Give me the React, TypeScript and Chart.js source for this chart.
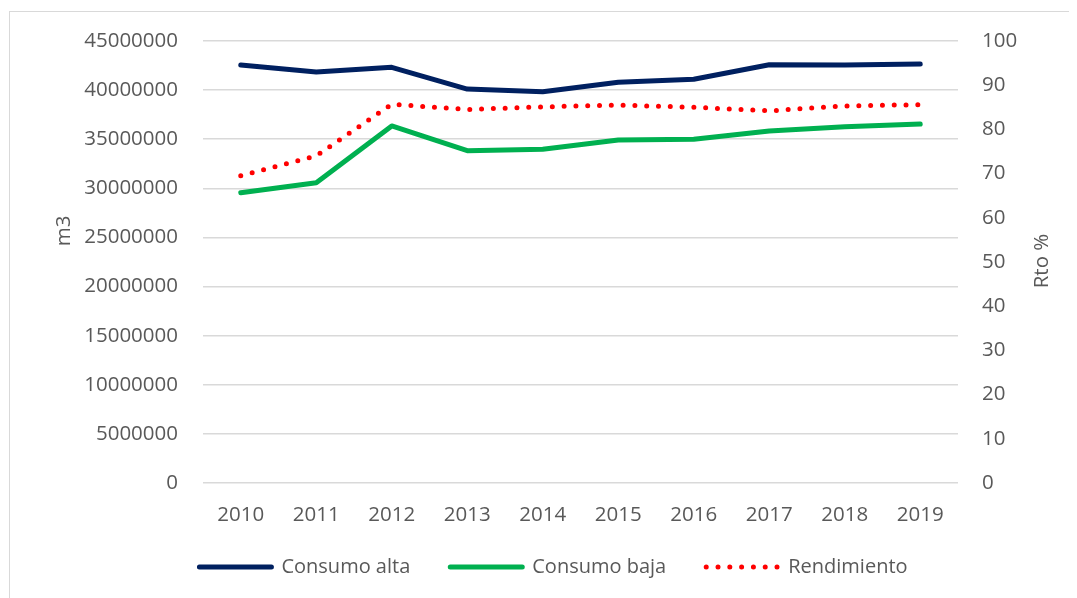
import React, { useEffect, useRef } from "react";
import { Chart, registerables } from "chart.js";

Chart.register(...registerables);

const years = ["2010", "2011", "2012", "2013", "2014", "2015", "2016", "2017", "2018", "2019"];
const consumoAlta = [42560000, 41850000, 42320000, 40110000, 39840000, 40800000, 41100000, 42590000, 42560000, 42660000];
const consumoBaja = [29560000, 30570000, 36350000, 33830000, 33970000, 34920000, 34990000, 35840000, 36280000, 36550000];
const rendimiento = [69.5, 74.0, 85.7, 84.5, 85.1, 85.5, 85.0, 84.2, 85.3, 85.6];

const leftAxisTitle = "m3";
const rightAxisTitle = "Rto %";

const FONT = "'Open Sans', 'Noto Sans', sans-serif";
const TEXT = "#595959";
const FS = 20.5;

const axisTitlesPlugin = {
  id: "axisTitles",
  afterDraw(chart: any) {
    const { ctx, chartArea } = chart;
    const draw = (text: string, x: number, y: number) => {
      ctx.save();
      ctx.fillStyle = TEXT;
      ctx.font = `${FS}px ${FONT}`;
      ctx.textAlign = "center";
      ctx.textBaseline = "middle";
      ctx.translate(x, y);
      ctx.rotate(-Math.PI / 2);
      ctx.fillText(text, 0, 0);
      ctx.restore();
    };
    draw(leftAxisTitle, chartArea.left - 139, chartArea.top + 190);
    draw(rightAxisTitle, chartArea.right + 84, chartArea.top + 220);
  },
};

export default function App() {
  const ref = useRef<HTMLCanvasElement | null>(null);

  useEffect(() => {
    if (!ref.current) return;
    const chart = new Chart(ref.current, {
      type: "line",
      data: {
        labels: years,
        datasets: [
          {
            label: "Consumo alta",
            data: consumoAlta,
            borderColor: "#002060",
            backgroundColor: "#002060",
            borderWidth: 5,
            borderCapStyle: "round",
            borderJoinStyle: "round",
            pointRadius: 0,
            pointHoverRadius: 0,
            tension: 0,
            yAxisID: "y",
          },
          {
            label: "Consumo baja",
            data: consumoBaja,
            borderColor: "#00B050",
            backgroundColor: "#00B050",
            borderWidth: 5,
            borderCapStyle: "round",
            borderJoinStyle: "round",
            pointRadius: 0,
            pointHoverRadius: 0,
            tension: 0,
            yAxisID: "y",
          },
          {
            label: "Rendimiento",
            data: rendimiento,
            borderColor: "#FF0000",
            backgroundColor: "#FF0000",
            borderWidth: 5,
            borderDash: [0, 11.8],
            borderCapStyle: "round",
            borderJoinStyle: "round",
            pointRadius: 0,
            pointHoverRadius: 0,
            tension: 0,
            yAxisID: "y1",
          },
        ],
      } as any,
      options: {
        animation: false,
        responsive: false,
        layout: { padding: { top: 29, left: 20, right: 0, bottom: 11 } },
        plugins: {
          tooltip: { enabled: false },
          legend: {
            position: "bottom",
            labels: {
              usePointStyle: true,
              pointStyle: "line",
              pointStyleWidth: 72,
              padding: 40,
              color: TEXT,
              font: { family: FONT, size: 20 },
              generateLabels(c: any) {
                const items = (Chart.defaults as any).plugins.legend.labels.generateLabels(c);
                items.forEach((it: any) => {
                  const ds = c.data.datasets[it.datasetIndex];
                  it.lineDash = ds.borderDash || [];
                  it.lineCap = ds.borderCapStyle;
                  it.lineWidth = ds.borderWidth;
                  it.strokeStyle = ds.borderColor;
                  it.fillStyle = ds.borderColor;
                });
                return items;
              },
            },
          },
        },
        scales: {
          x: {
            offset: true,
            grid: { display: false, drawTicks: false },
            border: { display: false },
            ticks: { color: TEXT, font: { family: FONT, size: FS }, padding: 20, maxRotation: 0 },
            afterFit(scale: any) {
              scale.height = 34;
              scale._computeLabelArea = () => undefined;
            },
          },
          y: {
            position: "left",
            min: 0,
            max: 45000000,
            grid: { color: "#d9d9d9", lineWidth: 1.5, drawTicks: false },
            border: { display: false },
            ticks: {
              stepSize: 5000000,
              color: TEXT,
              padding: 25,
              font: { family: FONT, size: FS },
              callback: (v: any) => String(v),
            },
            afterFit(scale: any) {
              scale.width = 173;
              scale.paddingTop = 0;
              scale.paddingBottom = 0;
            },
          },
          y1: {
            position: "right",
            min: 0,
            max: 100,
            grid: { display: false, drawTicks: false },
            border: { display: false },
            ticks: {
              stepSize: 10,
              color: TEXT,
              padding: 24,
              font: { family: FONT, size: FS },
              callback: (v: any) => String(v),
            },
            afterFit(scale: any) {
              scale.width = 119;
              scale.paddingTop = 0;
              scale.paddingBottom = 0;
            },
          },
        },
      } as any,
      plugins: [axisTitlesPlugin],
    });
    return () => chart.destroy();
  }, []);

  return (
    <div style={{ position: "relative", width: 1069, height: 590, overflow: "hidden" }}>
      <div
        style={{
          position: "absolute",
          left: 1,
          top: 3,
          width: 1200,
          height: 700,
          border: "1px solid #d9d9d9",
          background: "#fff",
        }}
      />
      <canvas ref={ref} width={1067} height={586} style={{ position: "absolute", left: 2, top: 4 }} />
    </div>
  );
}
